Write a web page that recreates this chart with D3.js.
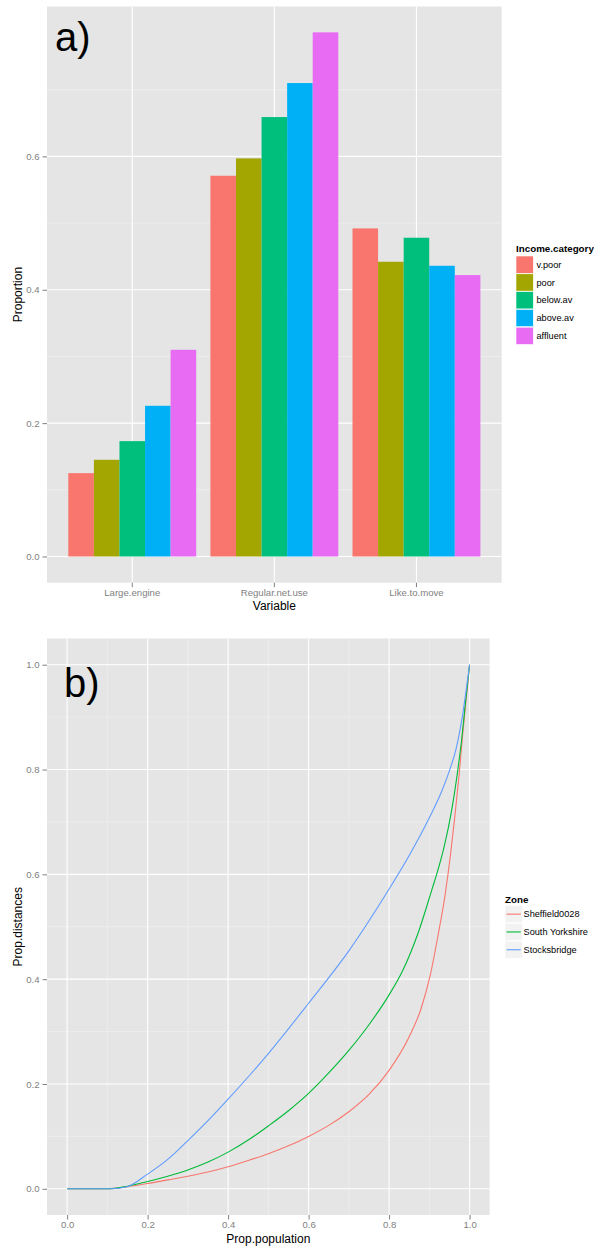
<!DOCTYPE html>
<html><head><meta charset="utf-8">
<script src="https://cdnjs.cloudflare.com/ajax/libs/d3/7.8.5/d3.min.js"></script>
<style>body{margin:0;background:#fff}svg{display:block;font-family:"Liberation Sans",Arial,sans-serif}</style>
</head><body><svg id="c" width="594" height="1246"></svg>
<script>
// ---------- data: panel a ----------
const categories = ["Large.engine", "Regular.net.use", "Like.to.move"];
const incomeGroups = ["v.poor", "poor", "below.av", "above.av", "affluent"];
const incomeColors = ["#F8766D", "#A3A500", "#00BF7D", "#00B0F6", "#E76BF3"];
const largeEngine = [0.125, 0.145, 0.173, 0.226, 0.310];
const regularNetUse = [0.571, 0.597, 0.659, 0.710, 0.786];
const likeToMove = [0.492, 0.442, 0.478, 0.436, 0.422];
const propTicks = [0, 0.2, 0.4, 0.6];
const propMinor = [0.1, 0.3, 0.5, 0.7];

// ---------- data: panel b ----------
const zones = ["Sheffield0028", "South Yorkshire", "Stocksbridge"];
const zoneColors = ["#F8766D", "#00BA38", "#619CFF"];
const sheffieldPop = [0, 0.1, 0.15, 0.2, 0.25, 0.3, 0.35, 0.4, 0.45, 0.5, 0.55, 0.6, 0.65, 0.7, 0.75, 0.8, 0.85, 0.88, 0.903, 0.922, 0.939, 0.953, 0.964, 0.974, 0.982, 0.991, 1.0];
const sheffieldDist = [0, 0, 0.004, 0.01, 0.017, 0.024, 0.032, 0.042, 0.054, 0.067, 0.082, 0.1, 0.121, 0.147, 0.18, 0.226, 0.29, 0.345, 0.41, 0.485, 0.56, 0.64, 0.715, 0.79, 0.86, 0.93, 1.0];
const southYorksPop = [0, 0.1, 0.15, 0.2, 0.25, 0.3, 0.35, 0.4, 0.45, 0.5, 0.55, 0.6, 0.65, 0.7, 0.75, 0.8, 0.833, 0.873, 0.906, 0.922, 0.936, 0.955, 0.97, 0.98, 0.989, 1.0];
const southYorksDist = [0, 0, 0.005, 0.014, 0.024, 0.036, 0.051, 0.07, 0.093, 0.12, 0.149, 0.182, 0.221, 0.264, 0.313, 0.37, 0.415, 0.49, 0.57, 0.61, 0.65, 0.72, 0.795, 0.855, 0.922, 1.0];
const stocksPop = [0, 0.108, 0.149, 0.2, 0.25, 0.3, 0.35, 0.4, 0.5, 0.6, 0.7, 0.8, 0.85, 0.9, 0.93, 0.95, 0.966, 0.982, 0.993, 1.0];
const stocksDist = [0, 0, 0.004, 0.028, 0.056, 0.092, 0.13, 0.171, 0.258, 0.354, 0.454, 0.572, 0.636, 0.708, 0.757, 0.798, 0.838, 0.901, 0.96, 1.0];
const unitTicks = [0, 0.2, 0.4, 0.6, 0.8, 1.0];
const unitMinor = [0.1, 0.3, 0.5, 0.7, 0.9];

const svg = d3.select("#c");
const GREY_BG = "#E5E5E5", TICK_COL = "#7F7F7F";

// ================= PANEL A =================
const A = {l: 47, r: 501.7, t: 6.5, b: 582.7};
const seriesA = [largeEngine, regularNetUse, likeToMove];
const xA = d3.scaleBand().domain(categories).range([A.l, A.r]).paddingInner(0.1).paddingOuter(0.15);
const xInner = d3.scaleBand().domain(incomeGroups).range([0, xA.bandwidth()]);
const yA = d3.scaleLinear().domain([-0.0393, 0.8248]).range([A.b, A.t]);
const colA = d3.scaleOrdinal().domain(incomeGroups).range(incomeColors);

const gA = svg.append("g");
gA.append("rect").attr("x", A.l).attr("y", A.t).attr("width", A.r - A.l).attr("height", A.b - A.t).attr("fill", GREY_BG);
gA.selectAll(".mn").data(propMinor).join("line")
  .attr("x1", A.l).attr("x2", A.r).attr("y1", d => yA(d)).attr("y2", d => yA(d))
  .attr("stroke", "#F2F2F2").attr("stroke-width", 0.6);
gA.selectAll(".mj").data(propTicks).join("line")
  .attr("x1", A.l).attr("x2", A.r).attr("y1", d => yA(d)).attr("y2", d => yA(d))
  .attr("stroke", "#fff").attr("stroke-width", 1.1);
gA.selectAll(".vx").data(categories).join("line")
  .attr("y1", A.t).attr("y2", A.b).attr("x1", d => xA(d) + xA.bandwidth() / 2).attr("x2", d => xA(d) + xA.bandwidth() / 2)
  .attr("stroke", "#fff").attr("stroke-width", 1.1);

categories.forEach((cat, ci) => {
  gA.append("g").selectAll("rect").data(seriesA[ci]).join("rect")
    .attr("x", (d, i) => xA(cat) + xInner(incomeGroups[i]))
    .attr("width", xInner.bandwidth())
    .attr("y", d => yA(d))
    .attr("height", d => yA(0) - yA(d))
    .attr("fill", (d, i) => colA(incomeGroups[i]));
});

// axes A
const axLA = gA.append("g").attr("transform", `translate(${A.l},0)`)
  .call(d3.axisLeft(yA).tickValues(propTicks).tickFormat(d3.format(".1f")).tickSize(4.5).tickPadding(3));
const axBA = gA.append("g").attr("transform", `translate(0,${A.b})`)
  .call(d3.axisBottom(xA).tickSize(4.5).tickPadding(2));
[axLA, axBA].forEach(ax => {
  ax.select(".domain").remove();
  ax.selectAll("line").attr("stroke", TICK_COL);
  ax.selectAll("text").attr("fill", TICK_COL).attr("font-size", 9.6).attr("font-family", "Liberation Sans, Arial, sans-serif");
});
gA.append("text").attr("x", (A.l + A.r) / 2).attr("y", 610).attr("text-anchor", "middle").attr("font-size", 12).text("Variable");
gA.append("text").attr("transform", `translate(22,${(A.t + A.b) / 2}) rotate(-90)`).attr("text-anchor", "middle").attr("font-size", 12).text("Proportion");
gA.append("text").attr("x", 55).attr("y", 51).attr("font-size", 40).text("a)");

// legend A
const legA = svg.append("g").attr("transform", "translate(516,0)");
legA.append("text").attr("x", 0).attr("y", 252).attr("font-size", 9.8).attr("font-weight", "bold").text("Income.category");
incomeGroups.forEach((g, i) => {
  legA.append("rect").attr("x", 0).attr("y", 256 + i * 17.8).attr("width", 17.3).attr("height", 17.3)
    .attr("fill", colA(g)).attr("stroke", "#fff").attr("stroke-width", 0.6);
  legA.append("text").attr("x", 20.5).attr("y", 256 + i * 17.8 + 8.65).attr("dy", "0.35em").attr("font-size", 9.2).text(g);
});

// ================= PANEL B =================
const B = {l: 47, r: 489.7, t: 638.5, b: 1215};
const xB = d3.scaleLinear().domain([-0.05, 1.05]).range([B.l, B.r]);
const yB = d3.scaleLinear().domain([-0.05, 1.05]).range([B.b, B.t]);
const gB = svg.append("g");
gB.append("rect").attr("x", B.l).attr("y", B.t).attr("width", B.r - B.l).attr("height", B.b - B.t).attr("fill", GREY_BG);
gB.selectAll(".mny").data(unitMinor).join("line")
  .attr("x1", B.l).attr("x2", B.r).attr("y1", d => yB(d)).attr("y2", d => yB(d)).attr("stroke", "#F2F2F2").attr("stroke-width", 0.6);
gB.selectAll(".mnx").data(unitMinor).join("line")
  .attr("y1", B.t).attr("y2", B.b).attr("x1", d => xB(d)).attr("x2", d => xB(d)).attr("stroke", "#F2F2F2").attr("stroke-width", 0.6);
gB.selectAll(".mjy").data(unitTicks).join("line")
  .attr("x1", B.l).attr("x2", B.r).attr("y1", d => yB(d)).attr("y2", d => yB(d)).attr("stroke", "#fff").attr("stroke-width", 1.1);
gB.selectAll(".mjx").data(unitTicks).join("line")
  .attr("y1", B.t).attr("y2", B.b).attr("x1", d => xB(d)).attr("x2", d => xB(d)).attr("stroke", "#fff").attr("stroke-width", 1.1);

const zoneData = [
  {name: zones[0], x: sheffieldPop, y: sheffieldDist},
  {name: zones[1], x: southYorksPop, y: southYorksDist},
  {name: zones[2], x: stocksPop, y: stocksDist}
];
const colB = d3.scaleOrdinal().domain(zones).range(zoneColors);
const line = d3.line().x(d => xB(d[0])).y(d => yB(d[1])).curve(d3.curveMonotoneX);
zoneData.forEach(z => {
  const pts = z.x.map((v, i) => [v, z.y[i]]);
  gB.append("path").attr("d", line(pts)).attr("fill", "none").attr("stroke", colB(z.name)).attr("stroke-width", 1.1);
});

const axLB = gB.append("g").attr("transform", `translate(${B.l},0)`)
  .call(d3.axisLeft(yB).tickValues(unitTicks).tickFormat(d3.format(".1f")).tickSize(4.5).tickPadding(3));
const axBB = gB.append("g").attr("transform", `translate(0,${B.b})`)
  .call(d3.axisBottom(xB).tickValues(unitTicks).tickFormat(d3.format(".1f")).tickSize(4.5).tickPadding(2));
[axLB, axBB].forEach(ax => {
  ax.select(".domain").remove();
  ax.selectAll("line").attr("stroke", TICK_COL);
  ax.selectAll("text").attr("fill", TICK_COL).attr("font-size", 9.6).attr("font-family", "Liberation Sans, Arial, sans-serif");
});
gB.append("text").attr("x", (B.l + B.r) / 2).attr("y", 1243).attr("text-anchor", "middle").attr("font-size", 12).text("Prop.population");
gB.append("text").attr("transform", `translate(22,${(B.t + B.b) / 2}) rotate(-90)`).attr("text-anchor", "middle").attr("font-size", 12).text("Prop.distances");
gB.append("text").attr("x", 64).attr("y", 697).attr("font-size", 40).text("b)");

// legend B
const legB = svg.append("g").attr("transform", "translate(505,0)");
legB.append("text").attr("x", 0).attr("y", 903).attr("font-size", 9.8).attr("font-weight", "bold").text("Zone");
zones.forEach((z, i) => {
  const y0 = 905.5 + i * 17.8;
  legB.append("rect").attr("x", 0).attr("y", y0).attr("width", 17.3).attr("height", 17.3).attr("fill", "#F2F2F2").attr("stroke", "#fff").attr("stroke-width", 0.6);
  legB.append("line").attr("x1", 1.5).attr("x2", 15.8).attr("y1", y0 + 8.65).attr("y2", y0 + 8.65).attr("stroke", colB(z)).attr("stroke-width", 1.1);
  legB.append("text").attr("x", 18.5).attr("y", y0 + 8.65).attr("dy", "0.35em").attr("font-size", 9.2).text(z);
});
</script></body></html>
